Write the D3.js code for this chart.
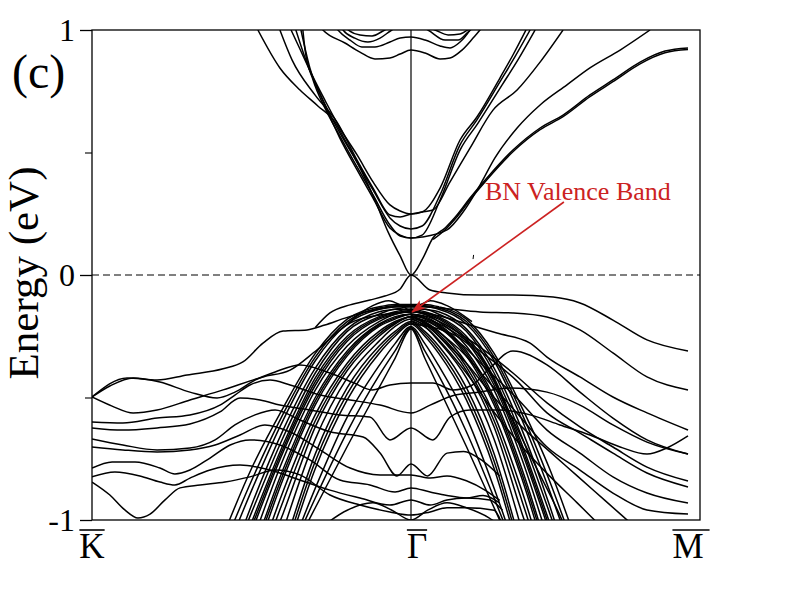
<!DOCTYPE html>
<html>
<head>
<meta charset="utf-8">
<script src="https://cdn.jsdelivr.net/npm/d3@7"></script>
<style>
body { margin: 0; background: #fff; }
svg { display: block; }
svg text { font-family: "Liberation Serif", "Times New Roman", "DejaVu Serif", serif; }
</style>
</head>
<body>
<svg id="chart" width="792" height="612"></svg>
<script>
// k path: K = 0, Gamma = 1, M = 2 ; energies in eV
var kPoints = [0, 1, 2];
var kLabels = ["K", "Γ", "M"];
var energyTicks = [-1, 0, 1];
var energyMinorTicks = [-0.5, 0.5];
var panelLabel = "(c)";
var yTitle = "Energy (eV)";

// conduction bands (Dirac cone + bands with minima at Gamma)
var conductionBands = [
    [[0.52,1.0],[0.589,0.845],[0.652,0.755],[0.708,0.69],[0.762,0.624],[0.793,0.551],[0.84,0.437],[0.887,0.306],[0.928,0.176],[0.966,0.078],[1,0],[1.043,0.069],[1.079,0.151],[1.123,0.192],[1.166,0.245],[1.213,0.314],[1.274,0.396],[1.368,0.51],[1.466,0.60],[1.549,0.653],[1.646,0.735],[1.729,0.796],[1.827,0.869],[1.917,0.914],[2,0.927]],
    [[1.08,0.145],[1.123,0.185],[1.166,0.238],[1.213,0.307],[1.274,0.389],[1.368,0.503],[1.466,0.593],[1.549,0.646],[1.646,0.728],[1.729,0.789],[1.827,0.862],[1.917,0.907],[2,0.92]],
    [[0.624,1.0],[0.646,0.939],[0.69,0.816],[0.73,0.714],[0.777,0.60],[0.831,0.49],[0.881,0.38],[0.934,0.286],[0.966,0.261],[1,0.249],[1.04,0.257],[1.105,0.355],[1.177,0.551],[1.238,0.645],[1.321,0.804],[1.368,0.898],[1.415,1.0]],
    [[0.639,1.0],[0.668,0.886],[0.721,0.722],[0.777,0.58],[0.831,0.461],[0.881,0.347],[0.934,0.233],[0.966,0.20],[1,0.188],[1.04,0.20],[1.105,0.327],[1.177,0.531],[1.238,0.633],[1.321,0.788],[1.375,0.89],[1.43,1.0]],
    [[0.655,1.0],[0.683,0.845],[0.727,0.702],[0.777,0.559],[0.831,0.429],[0.881,0.314],[0.934,0.192],[0.966,0.163],[1,0.151],[1.04,0.163],[1.105,0.306],[1.177,0.51],[1.242,0.62],[1.329,0.776],[1.386,0.878],[1.448,1.0]],
    [[0.589,1.0],[0.627,0.878],[0.699,0.735],[0.768,0.624],[0.831,0.469],[0.881,0.355],[0.934,0.245],[0.966,0.237],[1,0.249],[1.04,0.257],[1.079,0.265],[1.141,0.38],[1.213,0.518],[1.296,0.673],[1.383,0.755],[1.466,0.869],[1.549,1.0]],
    [[0.661,1.0],[0.668,0.918],[0.693,0.796],[0.73,0.682],[0.777,0.567],[0.831,0.441],[0.881,0.327],[0.934,0.204],[0.966,0.159],[1,0.151],[1.04,0.155],[1.13,0.184],[1.188,0.257],[1.249,0.367],[1.303,0.478],[1.383,0.60],[1.466,0.694],[1.563,0.776],[1.646,0.845],[1.755,0.918],[1.863,1.0]]
];

// W-shaped bands near the top of the window
var upperBands = [
    [[0.70,1.04],[0.724,1.0],[0.793,0.947],[0.84,0.91],[0.887,0.882],[0.934,0.886],[0.966,0.902],[1,0.918],[1.051,0.906],[1.105,0.882],[1.141,0.886],[1.184,0.918],[1.224,0.967],[1.249,1.0],[1.28,1.04]],
    [[0.75,1.04],[0.771,1.0],[0.809,0.959],[0.846,0.931],[0.887,0.931],[0.934,0.951],[0.966,0.967],[1,0.971],[1.051,0.959],[1.105,0.935],[1.141,0.927],[1.177,0.951],[1.213,1.0],[1.235,1.04]],
    [[0.77,1.04],[0.787,1.0],[0.824,0.967],[0.865,0.951],[0.903,0.967],[0.94,1.0],[1,1.033],[1.061,1.0],[1.123,0.959],[1.17,0.959],[1.206,0.992],[1.231,1.016]],
    [[0.79,1.04],[0.803,1.0],[0.84,0.98],[0.878,0.976],[0.918,1.0],[1,1.04],[1.087,1.0],[1.134,0.98],[1.177,0.984],[1.213,1.008]]
];

// valence bands starting at K (flat part) and running through Gamma
var valenceBands = [
    [[0,-0.498],[0.11,-0.42],[0.204,-0.429],[0.298,-0.408],[0.411,-0.383],[0.473,-0.355],[0.536,-0.278],[0.599,-0.229],[0.674,-0.224],[0.73,-0.204],[0.793,-0.176],[0.887,-0.143],[1,-0.127],[1.105,-0.135],[1.249,-0.151],[1.368,-0.155],[1.491,-0.171],[1.61,-0.224],[1.729,-0.318],[1.852,-0.416],[2,-0.469]],
    [[0,-0.498],[0.063,-0.535],[0.129,-0.563],[0.204,-0.551],[0.307,-0.51],[0.411,-0.469],[0.536,-0.416],[0.621,-0.388],[0.705,-0.306],[0.809,-0.196],[0.903,-0.163],[1,-0.151],[1.105,-0.167],[1.213,-0.204],[1.31,-0.237],[1.43,-0.278],[1.491,-0.335],[1.61,-0.416],[1.729,-0.498],[1.852,-0.563],[2,-0.633]],
    [[0,-0.498],[0.056,-0.453],[0.129,-0.42],[0.213,-0.437],[0.307,-0.478],[0.392,-0.502],[0.448,-0.478],[0.511,-0.429],[0.574,-0.396],[0.652,-0.367],[0.746,-0.40],[0.82,-0.44],[0.878,-0.469],[0.934,-0.449],[1,-0.441],[1.079,-0.441],[1.152,-0.469],[1.22,-0.45],[1.285,-0.38],[1.368,-0.31],[1.491,-0.367],[1.61,-0.478],[1.729,-0.584],[1.852,-0.673],[2,-0.731]],
    [[0,-0.60],[0.097,-0.604],[0.204,-0.584],[0.307,-0.571],[0.401,-0.531],[0.448,-0.49],[0.495,-0.449],[0.558,-0.429],[0.621,-0.449],[0.715,-0.49],[0.809,-0.51],[0.903,-0.531],[1,-0.563],[1.069,-0.531],[1.159,-0.49],[1.249,-0.478],[1.357,-0.461],[1.491,-0.478],[1.61,-0.531],[1.729,-0.612],[1.852,-0.682],[2,-0.731]],
    [[0,-0.624],[0.097,-0.633],[0.204,-0.624],[0.307,-0.608],[0.401,-0.559],[0.464,-0.502],[0.527,-0.51],[0.589,-0.531],[0.683,-0.551],[0.777,-0.571],[0.871,-0.58],[0.934,-0.673],[1,-0.624],[1.079,-0.673],[1.141,-0.58],[1.213,-0.551],[1.321,-0.551],[1.43,-0.571],[1.538,-0.612],[1.646,-0.653],[1.755,-0.702],[1.852,-0.731],[1.924,-0.706],[2,-0.657]],
    [[0,-0.669],[0.097,-0.694],[0.204,-0.714],[0.307,-0.706],[0.386,-0.673],[0.448,-0.612],[0.511,-0.571],[0.574,-0.551],[0.652,-0.592],[0.746,-0.64],[0.85,-0.661],[0.903,-0.727],[0.956,-0.82],[1,-0.771],[1.06,-0.82],[1.13,-0.727],[1.19,-0.72],[1.26,-0.76],[1.32,-0.82]],
    [[0,-0.702],[0.097,-0.714],[0.204,-0.722],[0.307,-0.714],[0.386,-0.694],[0.464,-0.653],[0.542,-0.612],[0.621,-0.641],[0.715,-0.714],[0.809,-0.788],[0.903,-0.816],[1,-0.816],[1.069,-0.829],[1.13,-0.82],[1.2,-0.84],[1.27,-0.88],[1.32,-0.92]],
    [[0,-0.788],[0.063,-0.763],[0.135,-0.763],[0.213,-0.788],[0.26,-0.812],[0.307,-0.796],[0.37,-0.747],[0.433,-0.694],[0.495,-0.673],[0.589,-0.694],[0.683,-0.755],[0.777,-0.837],[0.871,-0.857],[0.95,-0.886],[1,-0.869],[1.069,-0.886],[1.13,-0.9],[1.2,-0.91],[1.26,-0.9],[1.32,-0.93]],
    [[0,-0.824],[0.072,-0.804],[0.15,-0.82],[0.213,-0.845],[0.26,-0.857],[0.307,-0.829],[0.37,-0.796],[0.464,-0.776],[0.558,-0.796],[0.652,-0.837],[0.746,-0.878],[0.84,-0.91],[0.934,-0.939],[1,-0.918],[1.069,-0.939],[1.13,-0.918],[1.2,-0.91],[1.285,-0.918],[1.33,-0.96]],
    [[0,-0.845],[0.056,-0.898],[0.103,-0.959],[0.144,-0.992],[0.182,-0.976],[0.229,-0.918],[0.276,-0.869],[0.339,-0.857],[0.417,-0.845],[0.495,-0.824],[0.574,-0.796],[0.652,-0.816],[0.746,-0.898],[0.84,-0.939],[0.934,-0.967],[1,-0.98],[1.069,-0.967],[1.13,-0.95],[1.2,-0.95],[1.3,-0.96],[1.33,-1.02]],
    [[0.70,-1.05],[0.80,-0.96],[0.88,-0.93],[0.94,-0.96],[1,-1.0],[1.06,-0.96],[1.13,-0.93],[1.2,-0.95],[1.28,-0.99],[1.35,-1.05]]
];

// top valence band from the Dirac point, and the small humps above the bundle
var topValenceBands = [
    [[0.70,-0.214],[0.746,-0.155],[0.809,-0.122],[0.871,-0.102],[0.918,-0.086],[0.966,-0.057],[1,0],[1.069,-0.061],[1.13,-0.073],[1.249,-0.082],[1.368,-0.082],[1.513,-0.09],[1.61,-0.114],[1.729,-0.184],[1.852,-0.265],[2,-0.31]],
    [[0.8,-0.2],[0.88,-0.125],[0.93,-0.105],[0.97,-0.125],[1,-0.145],[1.03,-0.125],[1.07,-0.105],[1.13,-0.125],[1.22,-0.19]]
];

// Gamma -> M bands that bend over towards M
var fanBands = [
    [[1,-0.16],[1.06,-0.17],[1.12,-0.2],[1.19,-0.25],[1.249,-0.294],[1.368,-0.40],[1.491,-0.522],[1.61,-0.62],[1.729,-0.702],[1.852,-0.784],[2,-0.841]],
    [[1,-0.165],[1.06,-0.18],[1.12,-0.21],[1.19,-0.26],[1.26,-0.32],[1.38,-0.43],[1.491,-0.563],[1.61,-0.645],[1.729,-0.727],[1.852,-0.808],[2,-0.865]],
    [[1,-0.17],[1.06,-0.19],[1.12,-0.23],[1.19,-0.29],[1.26,-0.37],[1.38,-0.50],[1.491,-0.633],[1.61,-0.727],[1.729,-0.824],[1.852,-0.89],[2,-0.931]],
    [[1,-0.175],[1.06,-0.2],[1.12,-0.25],[1.19,-0.32],[1.26,-0.41],[1.38,-0.56],[1.491,-0.702],[1.61,-0.796],[1.729,-0.89],[1.852,-0.959],[2,-0.976]],
    [[1,-0.18],[1.06,-0.21],[1.12,-0.27],[1.2,-0.36],[1.3,-0.5],[1.4,-0.62],[1.5,-0.72],[1.6,-0.82],[1.7,-0.92],[1.8,-1.02]],
    [[1,-0.185],[1.06,-0.22],[1.12,-0.29],[1.2,-0.4],[1.3,-0.56],[1.4,-0.7],[1.5,-0.82],[1.6,-0.93],[1.68,-1.02]],
    [[1,-0.2],[1.1,-0.22],[1.18,-0.26],[1.26,-0.347],[1.35,-0.55],[1.45,-0.78],[1.545,-1.0],[1.56,-1.04]]
];

// BN valence bundle: energy at each distance |k - Gamma|, same on both sides
var bundleOffsets = [0, 0.05, 0.1, 0.2, 0.3, 0.4, 0.5, 0.6];
var bundleProfiles = [
    [-0.12,-0.12,-0.13,-0.18,-0.32,-0.54,-0.79,-1.1],
    [-0.125,-0.125,-0.135,-0.19,-0.335,-0.565,-0.84,-1.15],
    [-0.13,-0.13,-0.14,-0.20,-0.35,-0.59,-0.88,-1.2],
    [-0.13,-0.14,-0.15,-0.22,-0.38,-0.63,-0.94,-1.3],
    [-0.14,-0.14,-0.16,-0.23,-0.40,-0.66,-0.97,-1.3],
    [-0.14,-0.15,-0.17,-0.25,-0.42,-0.69,-1.01,-1.35],
    [-0.145,-0.155,-0.175,-0.26,-0.435,-0.705,-1.03],
    [-0.15,-0.16,-0.18,-0.27,-0.45,-0.72,-1.05],
    [-0.15,-0.16,-0.19,-0.29,-0.47,-0.75,-1.1],
    [-0.16,-0.17,-0.20,-0.31,-0.50,-0.79,-1.15],
    [-0.16,-0.175,-0.205,-0.32,-0.515,-0.81,-1.17],
    [-0.16,-0.18,-0.21,-0.33,-0.53,-0.83,-1.2],
    [-0.17,-0.19,-0.23,-0.36,-0.57,-0.88,-1.25],
    [-0.17,-0.195,-0.24,-0.375,-0.595,-0.92,-1.28],
    [-0.17,-0.20,-0.25,-0.39,-0.62,-0.97,-1.3],
    [-0.18,-0.21,-0.27,-0.42,-0.67,-1.04],
    [-0.19,-0.23,-0.29,-0.46,-0.73,-1.12],
    [-0.195,-0.24,-0.305,-0.485,-0.76,-1.15],
    [-0.20,-0.25,-0.32,-0.51,-0.79,-1.18],
    [-0.21,-0.28,-0.37,-0.58,-0.87,-1.2],
    [-0.215,-0.31,-0.41,-0.64,-0.91,-1.2],
    [-0.22,-0.34,-0.46,-0.70,-0.95,-1.2]
];

// annotation
var noteText = "BN Valence Band";
var notePos = [1.267, 0.306];
var noteArrowFrom = [1.552, 0.298];
var noteArrowTo = [1.004, -0.151];
var strayMark = [[1.224, 0.065], [1.226, 0.082]];

var plotLeft = 92, plotRight = 700, plotTop = 30, plotBottom = 520;
var red = "#cc2222";

var svg = d3.select("#chart");
var x = d3.scaleLinear().domain(kPoints).range([92, 411, 688]);
var y = d3.scaleLinear().domain([-1, 1]).range([plotBottom, plotTop]);

var defs = svg.append("defs");
defs.append("clipPath").attr("id", "plot-clip")
    .append("rect")
    .attr("x", plotLeft).attr("y", plotTop)
    .attr("width", plotRight - plotLeft).attr("height", plotBottom - plotTop);
defs.append("marker")
    .attr("id", "arrow-head")
    .attr("viewBox", "0 0 14 10")
    .attr("refX", 13).attr("refY", 5)
    .attr("markerWidth", 14).attr("markerHeight", 10)
    .attr("markerUnits", "userSpaceOnUse")
    .attr("orient", "auto")
    .append("path")
    .attr("d", "M0,0 L14,5 L0,10 L3,5 Z")
    .attr("fill", red);

var line = d3.line()
    .x(function(d) { return x(d[0]); })
    .y(function(d) { return y(d[1]); })
    .curve(d3.curveMonotoneX);

// build bundle bands from the half profiles
var bundleBands = bundleProfiles.map(function(p) {
    var left = p.map(function(e, i) { return [1 - bundleOffsets[i], e]; }).reverse();
    var right = p.slice(1).map(function(e, i) { return [1 + bundleOffsets[i + 1], e]; });
    return left.concat(right);
});

var allBands = [].concat(conductionBands, upperBands, valenceBands, topValenceBands, fanBands, bundleBands);

var bandLayer = svg.append("g").attr("clip-path", "url(#plot-clip)");
bandLayer.selectAll("path.band")
    .data(allBands)
    .enter().append("path")
    .attr("class", "band")
    .attr("d", line)
    .attr("fill", "none")
    .attr("stroke", "#000")
    .attr("stroke-width", 1.5);

// Fermi level and Gamma line
svg.append("line")
    .attr("x1", plotLeft).attr("x2", plotRight)
    .attr("y1", y(0)).attr("y2", y(0))
    .attr("stroke", "#000").attr("stroke-width", 1)
    .attr("stroke-dasharray", "7,4");
svg.append("line")
    .attr("x1", x(1)).attr("x2", x(1))
    .attr("y1", plotTop).attr("y2", plotBottom)
    .attr("stroke", "#000").attr("stroke-width", 1.2);

svg.append("rect")
    .attr("x", plotLeft).attr("y", plotTop)
    .attr("width", plotRight - plotLeft).attr("height", plotBottom - plotTop)
    .attr("fill", "none").attr("stroke", "#000").attr("stroke-width", 1.3);

// y axis
var yAxis = svg.append("g")
    .attr("transform", "translate(" + plotLeft + ",0)")
    .call(d3.axisLeft(y).tickValues(energyTicks).tickSize(12).tickPadding(5)
        .tickFormat(function(d) { return String(d); }));
yAxis.select(".domain").remove();
yAxis.attr("font-size", 32);
yAxis.selectAll("line").attr("stroke-width", 1.3);

var yMinor = svg.append("g")
    .attr("transform", "translate(" + plotLeft + ",0)")
    .call(d3.axisLeft(y).tickValues(energyMinorTicks).tickSize(7).tickFormat(""));
yMinor.select(".domain").remove();
yMinor.selectAll("line").attr("stroke-width", 1.1);

// k-point labels with overbars
var labelLayer = svg.append("g").attr("font-size", 35);
kPoints.forEach(function(k, i) {
    var t = labelLayer.append("text")
        .attr("x", x(k) + (kLabels[i] === "Γ" ? 6 : 0))
        .attr("y", 558)
        .attr("text-anchor", "middle")
        .text(kLabels[i]);
    var bb = t.node().getBBox();
    labelLayer.append("line")
        .attr("x1", bb.x).attr("x2", bb.x + bb.width + (kLabels[i] === "M" ? 6 : 0))
        .attr("y1", 530).attr("y2", 530)
        .attr("stroke", "#000").attr("stroke-width", 1.6);
});

svg.append("text")
    .attr("x", 12).attr("y", 88)
    .attr("font-size", 48)
    .text(panelLabel);

svg.append("text")
    .attr("transform", "translate(38,273) rotate(-90)")
    .attr("text-anchor", "middle")
    .attr("font-size", 43)
    .text(yTitle);

// annotation
svg.append("text")
    .attr("x", x(notePos[0])).attr("y", y(notePos[1]))
    .attr("font-size", 26)
    .attr("fill", red)
    .text(noteText);
svg.append("line")
    .attr("x1", x(noteArrowFrom[0])).attr("y1", y(noteArrowFrom[1]))
    .attr("x2", x(noteArrowTo[0])).attr("y2", y(noteArrowTo[1]))
    .attr("stroke", red).attr("stroke-width", 1.6)
    .attr("marker-end", "url(#arrow-head)");
svg.append("line")
    .attr("x1", x(strayMark[0][0])).attr("y1", y(strayMark[0][1]))
    .attr("x2", x(strayMark[1][0])).attr("y2", y(strayMark[1][1]))
    .attr("stroke", "#000").attr("stroke-width", 1);
</script>
</body>
</html>
